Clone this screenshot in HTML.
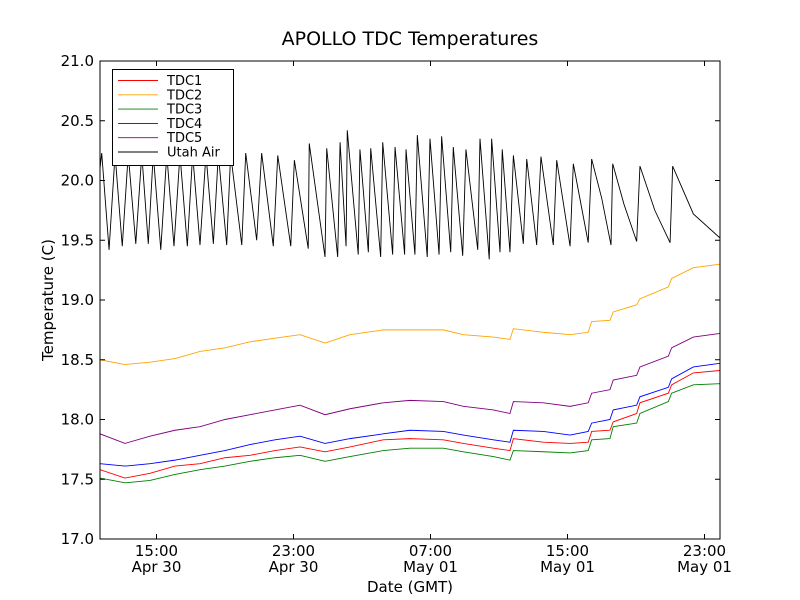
<!DOCTYPE html>
<html><head><meta charset="utf-8"><style>body{margin:0;background:#fff}svg{display:block;font-family:"DejaVu Sans","Liberation Sans",sans-serif}</style></head>
<body>
<svg id="chart" width="800" height="600" viewBox="0 0 800 600" xmlns="http://www.w3.org/2000/svg">
<rect width="800" height="600" fill="#fff"/>
<text x="410" y="45" font-size="19" text-anchor="middle">APOLLO TDC Temperatures</text>
<text x="410" y="592" font-size="15" text-anchor="middle">Date (GMT)</text>
<text transform="translate(53,300) rotate(-90)" font-size="15" text-anchor="middle">Temperature (C)</text>
<g id="plot"></g>
</svg>
<script>
const yTicks=[17.0,17.5,18.0,18.5,19.0,19.5,20.0,20.5,21.0];
const xTickHours=[15,23,31,39,47];
const xTickTimes=["15:00","23:00","07:00","15:00","23:00"];
const xTickDates=["Apr 30","Apr 30","May 01","May 01","May 01"];
const seriesNames=["TDC1","TDC2","TDC3","TDC4","TDC5","Utah Air"];
const seriesColors=["#ff0000","#ffa500","#008000","#0000ff","#800080","#000000"];
const tdcHours=[11.70,13.16,14.62,16.08,17.54,19.00,20.46,21.92,23.38,24.84,26.30,28.24,29.80,31.75,32.92,34.67,35.64,35.84,37.59,39.15,40.21,40.41,41.48,41.67,43.04,43.23,44.89,45.08,46.35,47.90];
const tdc1=[17.58,17.51,17.55,17.61,17.63,17.68,17.70,17.74,17.77,17.73,17.77,17.83,17.84,17.83,17.80,17.76,17.74,17.84,17.81,17.80,17.81,17.90,17.91,17.98,18.05,18.14,18.22,18.29,18.39,18.41];
const tdc2=[18.50,18.46,18.48,18.51,18.57,18.60,18.65,18.68,18.71,18.64,18.71,18.75,18.75,18.75,18.71,18.69,18.67,18.76,18.73,18.71,18.73,18.82,18.83,18.90,18.96,19.01,19.11,19.18,19.27,19.30];
const tdc3=[17.51,17.47,17.49,17.54,17.58,17.61,17.65,17.68,17.70,17.65,17.69,17.74,17.76,17.76,17.73,17.69,17.66,17.74,17.73,17.72,17.74,17.83,17.84,17.94,17.97,18.05,18.15,18.22,18.29,18.30];
const tdc4=[17.63,17.61,17.63,17.66,17.70,17.74,17.79,17.83,17.86,17.80,17.84,17.88,17.91,17.90,17.87,17.83,17.81,17.91,17.90,17.87,17.90,17.97,18.00,18.08,18.12,18.19,18.27,18.34,18.44,18.47];
const tdc5=[17.88,17.80,17.86,17.91,17.94,18.00,18.04,18.08,18.12,18.04,18.09,18.14,18.16,18.15,18.11,18.08,18.05,18.15,18.14,18.11,18.14,18.22,18.25,18.33,18.37,18.44,18.53,18.60,18.69,18.72];
const airHours=[11.70,11.80,12.23,12.58,13.00,13.35,13.79,14.14,14.52,14.81,15.25,15.60,16.02,16.37,16.80,17.11,17.54,17.89,18.32,18.61,19.10,19.33,19.98,20.21,20.85,21.14,21.82,22.08,22.84,23.05,23.86,23.92,24.84,24.94,25.58,25.72,26.07,26.14,26.78,26.88,27.37,27.51,28.09,28.21,28.79,28.93,29.49,29.57,30.09,30.23,30.81,30.97,31.50,31.65,32.18,32.33,32.88,33.07,33.76,33.89,34.43,34.57,35.06,35.19,35.64,35.84,36.42,36.62,37.20,37.45,38.17,38.37,39.15,39.34,40.21,40.41,41.0,41.54,41.64,42.3,43.04,43.23,44.1,44.99,45.14,46.35,47.90];
const airValues=[20.10,20.23,19.42,20.22,19.45,20.22,19.47,20.22,19.47,20.22,19.42,20.22,19.45,20.22,19.45,20.22,19.46,20.22,19.47,20.22,19.46,20.22,19.46,20.23,19.50,20.23,19.45,20.21,19.45,20.17,19.43,20.31,19.36,20.27,19.36,20.32,19.45,20.42,19.38,20.26,19.40,20.27,19.36,20.32,19.38,20.28,19.38,20.26,19.38,20.38,19.36,20.35,19.38,20.37,19.40,20.28,19.37,20.26,19.42,20.35,19.34,20.35,19.40,20.26,19.40,20.21,19.47,20.18,19.46,20.20,19.46,20.17,19.45,20.14,19.48,20.18,19.85,19.46,20.14,19.80,19.49,20.12,19.75,19.48,20.12,19.72,19.52];

const NS="http://www.w3.org/2000/svg";
const L=100,R=720,T=61,B=539;
const xScale=h=>156.5+(h-15)*17.125;
const yScale=v=>B-(v-17)*(B-T)/4;
const g=document.getElementById('plot');
function mk(tag,attrs){const e=document.createElementNS(NS,tag);for(const k in attrs)e.setAttribute(k,attrs[k]);return e;}
const cp=mk('clipPath',{id:'clip'});cp.appendChild(mk('rect',{x:L,y:T,width:R-L,height:B-T}));g.appendChild(cp);
function line(xs,ys,color,name){
  const p=mk('polyline',{points:xs.map((h,i)=>xScale(h).toFixed(2)+','+yScale(ys[i]).toFixed(2)).join(' '),fill:'none',stroke:color,'stroke-width':0.9,'clip-path':'url(#clip)'});
  
  
  g.appendChild(p);
}
line(airHours,airValues,seriesColors[5],'series-utah-air');
line(tdcHours,tdc2,seriesColors[1],'series-tdc2');
line(tdcHours,tdc5,seriesColors[4],'series-tdc5');
line(tdcHours,tdc4,seriesColors[3],'series-tdc4');
line(tdcHours,tdc1,seriesColors[0],'series-tdc1');
line(tdcHours,tdc3,seriesColors[2],'series-tdc3');
const frame=mk('rect',{x:L,y:T,width:R-L,height:B-T,fill:'none',stroke:'#000','stroke-width':1});


g.appendChild(frame);
yTicks.forEach(v=>{
  const y=yScale(v);
  g.appendChild(mk('line',{x1:L,x2:L+5,y1:y,y2:y,stroke:'#000'}));
  g.appendChild(mk('line',{x1:R-5,x2:R,y1:y,y2:y,stroke:'#000'}));
  const t=mk('text',{x:L-6,y:y+5,'font-size':15,'text-anchor':'end'});t.textContent=v.toFixed(1);
  
  
  g.appendChild(t);
});
xTickHours.forEach((h,i)=>{
  const x=xScale(h);
  g.appendChild(mk('line',{x1:x,x2:x,y1:B-5,y2:B,stroke:'#000'}));
  g.appendChild(mk('line',{x1:x,x2:x,y1:T,y2:T+5,stroke:'#000'}));
  const t=mk('text',{x:x,y:556,'font-size':15,'text-anchor':'middle'});t.textContent=xTickTimes[i];
  
  
  g.appendChild(t);
  const d=mk('text',{x:x,y:572,'font-size':15,'text-anchor':'middle'});d.textContent=xTickDates[i];
  
  
  g.appendChild(d);
});
const lg=mk('g',{});


lg.appendChild(mk('rect',{x:112.5,y:69.5,width:121,height:96,fill:'#fff',stroke:'#000','stroke-width':1}));
const order=[0,1,2,3,4,5];
order.forEach((si,i)=>{
  const y=80.5+i*14.3;
  lg.appendChild(mk('line',{x1:118,x2:158,y1:y,y2:y,stroke:seriesColors[si],'stroke-width':0.9}));
  const t=mk('text',{x:167,y:y+4.5,'font-size':13});t.textContent=seriesNames[si];
  
  
  lg.appendChild(t);
});
g.appendChild(lg);
</script>
</body></html>
